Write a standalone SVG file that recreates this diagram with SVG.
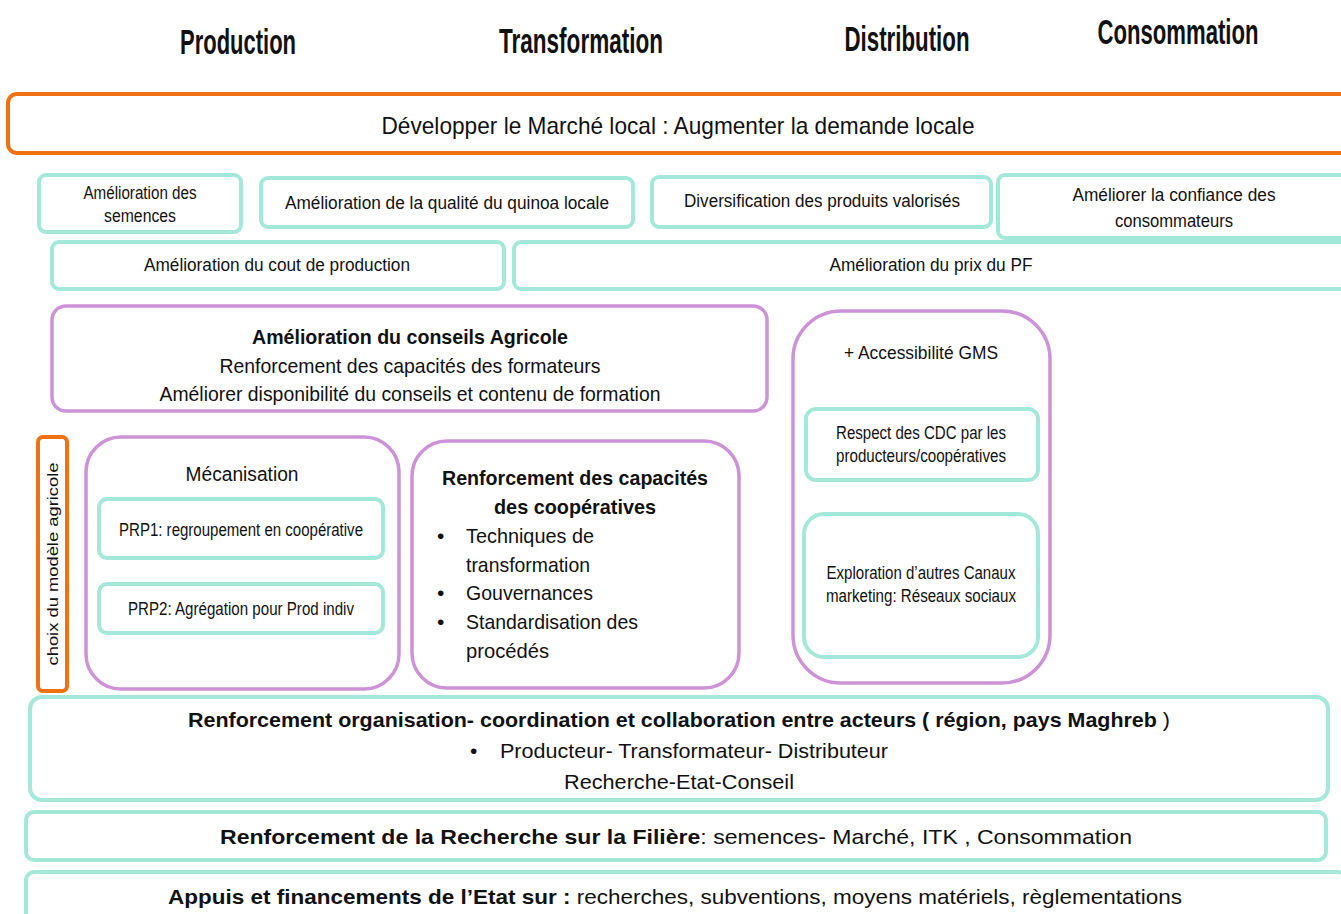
<svg xmlns="http://www.w3.org/2000/svg" width="1341" height="914" viewBox="0 0 1341 914">
<style>
text{font-family:"Liberation Sans",Arial,sans-serif;fill:#111;}
.h{font-weight:bold;font-size:35px;text-anchor:middle;}
.t{font-size:17.5px;text-anchor:middle;}
.m{font-size:21px;}
.c{text-anchor:middle;}
.b{font-weight:bold;}
.teal{fill:#fff;stroke:#A3E8D8;stroke-width:4;}
.pur{fill:#fff;stroke:#CE92D8;stroke-width:3.5;}
.org{fill:#fff;stroke:#EE7211;stroke-width:4;}
</style>
<rect width="1341" height="914" fill="#fff"/>
<g id="headers">
<text class="h" x="238" y="54" textLength="116" lengthAdjust="spacingAndGlyphs">Production</text>
<text class="h" x="581" y="53" textLength="164" lengthAdjust="spacingAndGlyphs">Transformation</text>
<text class="h" x="907" y="51" textLength="125" lengthAdjust="spacingAndGlyphs">Distribution</text>
<text class="h" x="1178" y="44" textLength="161" lengthAdjust="spacingAndGlyphs">Consommation</text>
</g>
<g id="marche">
<rect class="org" x="8" y="94" width="1345" height="59" rx="9"/>
<text class="c" x="678" y="134" font-size="24" textLength="593" lengthAdjust="spacingAndGlyphs">Développer le Marché local : Augmenter la demande locale</text>
</g>
<g id="semences">
<rect class="teal" x="39" y="175" width="202" height="57" rx="7"/>
<text class="t" x="140" y="199" textLength="113" lengthAdjust="spacingAndGlyphs">Amélioration des</text>
<text class="t" x="140" y="222" textLength="72" lengthAdjust="spacingAndGlyphs">semences</text>
</g>
<g id="qualite">
<rect class="teal" x="261" y="178" width="372" height="49" rx="7"/>
<text class="t" x="447" y="209" textLength="324" lengthAdjust="spacingAndGlyphs">Amélioration de la qualité du quinoa locale</text>
</g>
<g id="diversification">
<rect class="teal" x="652" y="177" width="339" height="50" rx="7"/>
<text class="t" x="822" y="207" textLength="276" lengthAdjust="spacingAndGlyphs">Diversification des produits valorisés</text>
</g>
<g id="confiance">
<rect class="teal" x="998" y="175" width="360" height="63" rx="7"/>
<text class="t" x="1174" y="201" textLength="203" lengthAdjust="spacingAndGlyphs">Améliorer la confiance des</text>
<text class="t" x="1174" y="227" textLength="118" lengthAdjust="spacingAndGlyphs">consommateurs</text>
</g>
<g id="cout">
<rect class="teal" x="52" y="242" width="452" height="47" rx="7"/>
<text class="t" x="277" y="271" textLength="266" lengthAdjust="spacingAndGlyphs">Amélioration du cout de production</text>
</g>
<g id="prix">
<rect class="teal" x="514" y="242" width="840" height="47" rx="7"/>
<text class="t" x="931" y="271" textLength="203" lengthAdjust="spacingAndGlyphs">Amélioration du prix du PF</text>
</g>
<g id="conseils">
<rect class="pur" x="52" y="306" width="715" height="105" rx="14"/>
<text class="m c b" x="410" y="344" textLength="316" lengthAdjust="spacingAndGlyphs">Amélioration du conseils Agricole</text>
<text class="m c" x="410" y="373" textLength="381" lengthAdjust="spacingAndGlyphs">Renforcement des capacités des formateurs</text>
<text class="m c" x="410" y="401" textLength="501" lengthAdjust="spacingAndGlyphs">Améliorer disponibilité du conseils et contenu de formation</text>
</g>
<g id="gms">
<rect class="pur" x="793" y="311" width="257" height="372" rx="48"/>
<text class="c" x="921" y="359" font-size="18" textLength="154" lengthAdjust="spacingAndGlyphs">+ Accessibilité GMS</text>
</g>
<g id="cdc">
<rect class="teal" x="806" y="409" width="232" height="71" rx="10"/>
<text class="t" x="921" y="439" font-size="16" textLength="170" lengthAdjust="spacingAndGlyphs">Respect des CDC par les</text>
<text class="t" x="921" y="462" font-size="16" textLength="170" lengthAdjust="spacingAndGlyphs">producteurs/coopératives</text>
</g>
<g id="canaux">
<rect class="teal" x="804" y="514" width="234" height="143" rx="20"/>
<text class="t" x="921" y="579" font-size="16" textLength="189" lengthAdjust="spacingAndGlyphs">Exploration d’autres Canaux</text>
<text class="t" x="921" y="602" font-size="16" textLength="190" lengthAdjust="spacingAndGlyphs">marketing: Réseaux sociaux</text>
</g>
<g id="choix">
<rect x="38" y="437" width="29" height="254" rx="5" fill="#fff" stroke="#EE7211" stroke-width="4"/>
<text class="c" transform="translate(58 564) rotate(-90)" font-size="15" textLength="203" lengthAdjust="spacingAndGlyphs">choix du modèle agricole</text>
</g>
<g id="mecanisation">
<rect class="pur" x="86" y="437" width="313" height="252" rx="35"/>
<text class="c" x="242" y="481" font-size="20" textLength="113" lengthAdjust="spacingAndGlyphs">Mécanisation</text>
</g>
<g id="prp1">
<rect class="teal" x="99" y="499" width="284" height="59" rx="8"/>
<text class="t" x="241" y="536" textLength="244" lengthAdjust="spacingAndGlyphs">PRP1: regroupement en coopérative</text>
</g>
<g id="prp2">
<rect class="teal" x="99" y="584" width="284" height="49" rx="8"/>
<text class="t" x="241" y="615" textLength="226" lengthAdjust="spacingAndGlyphs">PRP2: Agrégation pour Prod indiv</text>
</g>
<g id="cooperatives">
<rect class="pur" x="412" y="441" width="327" height="247" rx="35"/>
<text class="m c b" x="575" y="485" textLength="266" lengthAdjust="spacingAndGlyphs">Renforcement des capacités</text>
<text class="m c b" x="575" y="514" textLength="162" lengthAdjust="spacingAndGlyphs">des coopératives</text>
<text class="m" x="437" y="543">•</text>
<text class="m" x="466" y="543" textLength="128" lengthAdjust="spacingAndGlyphs">Techniques de</text>
<text class="m" x="466" y="572" textLength="124" lengthAdjust="spacingAndGlyphs">transformation</text>
<text class="m" x="437" y="600">•</text>
<text class="m" x="466" y="600" textLength="127" lengthAdjust="spacingAndGlyphs">Gouvernances</text>
<text class="m" x="437" y="629">•</text>
<text class="m" x="466" y="629" textLength="172" lengthAdjust="spacingAndGlyphs">Standardisation des</text>
<text class="m" x="466" y="658" textLength="83" lengthAdjust="spacingAndGlyphs">procédés</text>
</g>
<g id="organisation">
<rect class="teal" x="30" y="697" width="1298" height="103" rx="12"/>
<text class="m c" x="679" y="727" textLength="982" lengthAdjust="spacingAndGlyphs"><tspan class="b">Renforcement organisation- coordination et collaboration entre acteurs ( région, pays Maghreb</tspan> )</text>
<text class="m" x="470" y="758">•</text>
<text class="m" x="500" y="758" textLength="388" lengthAdjust="spacingAndGlyphs">Producteur- Transformateur- Distributeur</text>
<text class="m c" x="679" y="789" textLength="230" lengthAdjust="spacingAndGlyphs">Recherche-Etat-Conseil</text>
</g>
<g id="recherche">
<rect class="teal" x="26" y="812" width="1300" height="48" rx="8"/>
<text class="m" x="220" y="844" textLength="912" lengthAdjust="spacingAndGlyphs"><tspan class="b">Renforcement de la  Recherche  sur la Filière</tspan>:  semences- Marché, ITK , Consommation</text>
</g>
<g id="etat">
<rect class="teal" x="26" y="872" width="1320" height="60" rx="8"/>
<text class="m" x="168" y="904" textLength="1014" lengthAdjust="spacingAndGlyphs"><tspan class="b">Appuis et financements  de l’Etat sur :</tspan> recherches,  subventions,  moyens matériels,  règlementations</text>
</g>
<g id="connectors"></g>
</svg>
